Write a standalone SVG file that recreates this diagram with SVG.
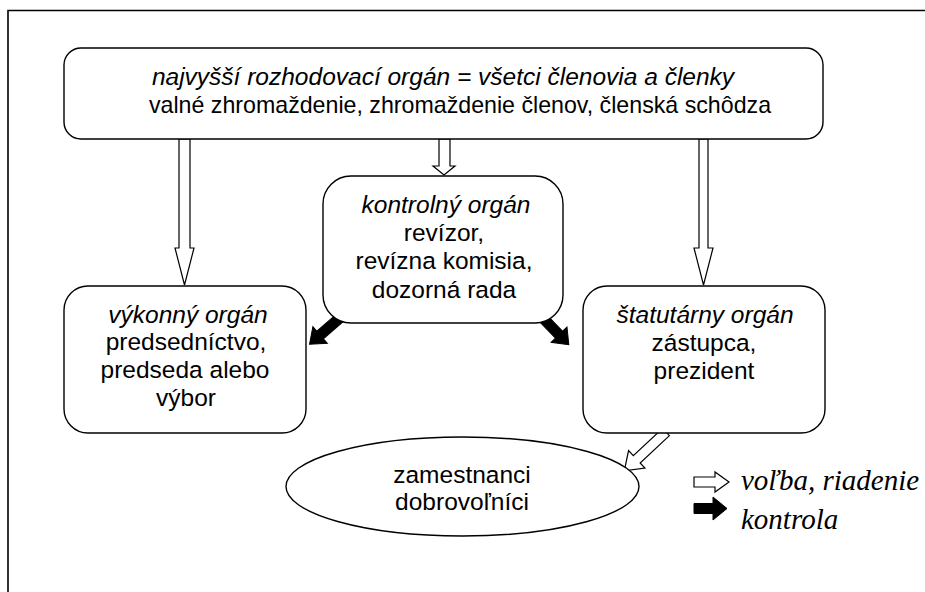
<svg xmlns="http://www.w3.org/2000/svg" width="925" height="592" viewBox="0 0 925 592">
<style>
.box{fill:#fff;stroke:#000;stroke-width:1.4}
.t{font-family:"Liberation Sans",Arial,sans-serif;font-size:24.5px;fill:#000;text-anchor:middle}
.i{font-style:italic}
.wa{fill:#fff;stroke:#000;stroke-width:1.2;stroke-linejoin:miter}
.ba{fill:#000;stroke:#000;stroke-width:1}
.lg{font-family:"Liberation Serif","Times New Roman",serif;font-style:italic;font-size:29px;fill:#000}
</style>
<rect width="925" height="592" fill="#fff"/>
<path d="M8,592 V10.5 H925" fill="none" stroke="#000" stroke-width="1.6"/>
<g id="connectors">
<polygon class="wa" points="179,139 179,248 175,248 184.5,285 194,248 190,248 190,139"/>
<polygon class="wa" points="699,139 699,248 694,248 703.5,285 713,248 708,248 708,139"/>
<polygon class="wa" points="439,139 439,166 433,166 444,175 455,166 450,166 450,139"/>
<polygon class="ba" transform="translate(342,316) rotate(139)" points="0,-5 29,-5 29,-11 43,0 29,11 29,5 0,5"/>
<polygon class="ba" transform="translate(541,316) rotate(46)" points="0,-5 26,-5 26,-11 40,0 26,11 26,5 0,5"/>
<polygon class="wa" transform="translate(666,432) rotate(137)" points="0,-5 40,-5 40,-12 57,0 40,12 40,5 0,5"/>
</g>
<g id="top">
<rect class="box" x="64" y="48" width="759" height="91" rx="17"/>
<text class="t i" x="443" y="85">najvyšší rozhodovací orgán = všetci členovia a členky</text>
<text class="t" x="460" y="113" style="font-size:23.2px">valné zhromaždenie, zhromaždenie členov, členská schôdza</text>
</g>
<g id="kontrolny">
<rect class="box" x="323" y="176" width="240" height="147" rx="28"/>
<text class="t i" x="446" y="213">kontrolný orgán</text>
<text class="t" x="444" y="241">revízor,</text>
<text class="t" x="444" y="269">revízna komisia,</text>
<text class="t" x="444" y="298">dozorná rada</text>
</g>
<g id="vykonny">
<rect class="box" x="64" y="286" width="242" height="147" rx="24"/>
<text class="t i" x="188" y="323">výkonný orgán</text>
<text class="t" x="186" y="350">predsedníctvo,</text>
<text class="t" x="185" y="378">predseda alebo</text>
<text class="t" x="186" y="406">výbor</text>
</g>
<g id="statutarny">
<rect class="box" x="583" y="286" width="242" height="147" rx="24"/>
<text class="t i" x="705" y="323">štatutárny orgán</text>
<text class="t" x="704" y="351">zástupca,</text>
<text class="t" x="704" y="379">prezident</text>
</g>
<g id="zamestnanci">
<ellipse class="box" cx="462.5" cy="486.5" rx="176.5" ry="49.5"/>
<text class="t" x="462" y="483">zamestnanci</text>
<text class="t" x="462" y="510">dobrovoľníci</text>
</g>
<g id="legend">
<polygon class="wa" points="694,477 715,477 715,472 729,482 715,492 715,487 694,487"/>
<polygon class="ba" points="694,503.5 713,503.5 713,497 727,508.5 713,520 713,513.5 694,513.5"/>
<text class="lg" x="741" y="490">voľba, riadenie</text>
<text class="lg" x="741" y="529">kontrola</text>
</g>
</svg>
